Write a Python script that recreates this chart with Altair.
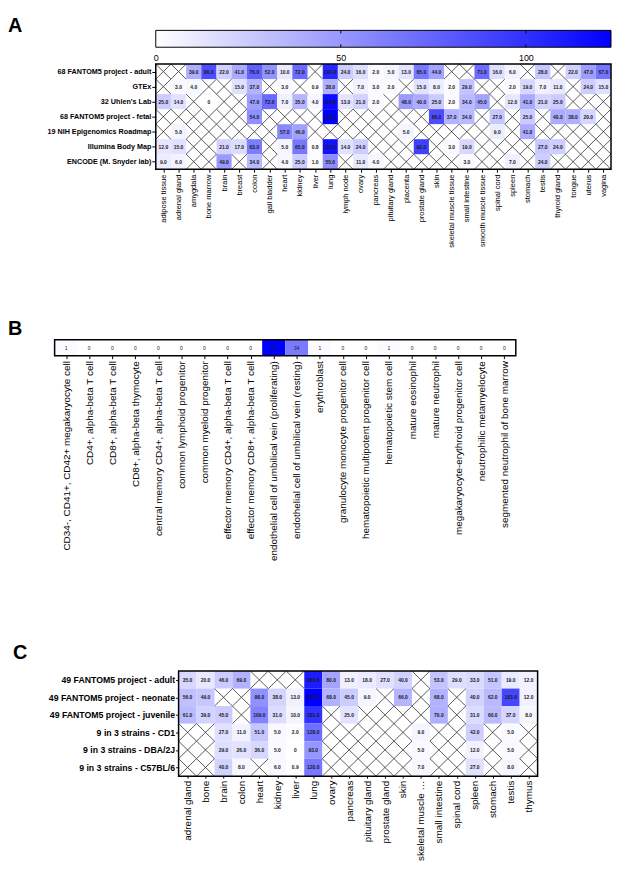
import json
import altair as alt
import pandas as pd

FONT = "Liberation Sans"
N = None

# ---------------- Panel A data ----------------
a_tissues = ["adipose tissue", "adrenal gland", "amygdala", "bone marrow", "brain", "breast",
             "colon", "gall bladder", "heart", "kidney", "liver", "lung", "lymph node", "ovary",
             "pancreas", "pituitary gland", "placenta", "prostate gland", "skin",
             "skeletal muscle tissue", "small intestine", "smooth muscle tissue", "spinal cord",
             "spleen", "stomach", "testis", "thyroid gland", "tongue", "uterus", "vagina"]
a_sources = ["68 FANTOM5 project - adult", "GTEx", "32 Uhlen's Lab", "68 FANTOM5 project - fetal",
             "19 NIH Epigenomics Roadmap", "Illumina Body Map", "ENCODE (M. Snyder lab)"]
a_fantom_adult = [N, N, 39, 86, 22, 41, 76, 52, 10, 72, N, 104, 24, 16, 2, 5, 13, 65, 44, N, N, 71, 16, 6, N, 28, N, 22, 47, 67]
a_gtex = [N, 3, 4, N, N, 15, 37, N, 3, N, 0.9, 38, N, 7, 3, 2, N, 15, 8, 2, 29, N, N, 2, 19, 7, 11, N, 24, 15]
a_uhlen = [25, 14, N, 0, N, N, 47, 72, 7, 35, 4, 117, 13, 21, 2, N, 48, 40, 25, 2, 34, 45, N, 12, 41, 21, 25, N, N, N]
a_fantom_fetal = [N, N, N, N, N, N, 54, N, N, N, N, 123, N, N, N, N, N, N, 86, 37, 34, N, 27, N, 25, N, 40, 38, 20, N]
a_nih = [N, 5, N, N, N, N, N, N, 57, 46, N, N, N, N, N, N, 5, N, N, N, N, N, 9, N, 41, N, N, N, N, N]
a_illumina = [12, 15, N, N, 21, 17, 63, N, 5, 65, 0.8, 115, 14, 24, N, N, N, 92, N, 3, 19, N, N, N, N, 27, 24, N, N, N]
a_encode = [9, 6, N, N, 49, N, 34, N, 4, 25, 1, 55, N, 11, 4, N, N, N, N, N, 3, N, N, 7, N, 24, N, N, N, N]
a_matrix = [a_fantom_adult, a_gtex, a_uhlen, a_fantom_fetal, a_nih, a_illumina, a_encode]
a_max = 123
a_colorbar_ticks = [0, 50, 100]

# ---------------- Panel B data ----------------
b_cells = ["CD34-, CD41+, CD42+ megakaryocyte cell", "CD4+, alpha-beta T cell", "CD8+, alpha-beta T cell",
           "CD8+, alpha-beta thymocyte", "central memory CD4+, alpha-beta T cell",
           "common lymphoid progenitor", "common myeloid progenitor",
           "effector memory CD4+, alpha-beta T cell", "effector memory CD8+, alpha-beta T cell",
           "endothelial cell of umbilical vein (proliferating)",
           "endothelial cell of umbilical vein (resting)", "erythroblast",
           "granulocyte monocyte progenitor cell", "hematopoietic multipotent progenitor cell",
           "hematopoietic stem cell", "mature eosinophil", "mature neutrophil",
           "megakaryocyte-erythroid progenitor cell", "neutrophilic metamyelocyte",
           "segmented neutrophil of bone marrow"]
b_values = [1, 0, 0, 0, 0, 0, 0, 0, 0, 65, 34, 1, 0, 0, 1, 0, 0, 0, 0, 0]
b_max = 65

# ---------------- Panel C data ----------------
c_tissues = ["adrenal gland", "bone", "brain", "colon", "heart", "kidney", "liver", "lung", "ovary",
             "pancreas", "pituitary gland", "prostate gland", "skin", "skeletal muscle tissue",
             "small intestine", "spinal cord", "spleen", "stomach", "testis", "thymus"]
c_sources = ["49 FANTOM5 project - adult", "49 FANTOM5 project - neonate", "49 FANTOM5 project - juvenile",
             "9 in 3 strains - CD1", "9 in 3 strains - DBA/2J", "9 in 3 strains - C57BL/6"]
c_adult = [35, 20, 46, 69, N, N, N, 200, 80, 13, 18, 27, 40, N, 53, 29, 33, 51, 19, 12]
c_neonate = [56, 49, N, N, 98, 38, 13, 225, 68, 45, 9, N, 66, N, 68, N, 40, 62, 163, 12]
c_juvenile = [61, 39, 45, N, 109, 31, 10, 181, N, 25, N, N, N, N, 70, N, 31, 60, 37, 8]
c_cd1 = [N, N, 27, 11, 51, 5, 2, 128, N, N, N, N, N, 9, N, N, 42, N, 5, N]
c_dba = [N, N, 29, 26, 36, 5, 0, 93, N, N, N, N, N, 5, N, N, 12, N, 5, N]
c_c57 = [N, N, 40, 8, N, 6, 0.9, 120, N, N, N, N, N, 7, N, N, 27, N, 8, N]
c_matrix = [c_adult, c_neonate, c_juvenile, c_cd1, c_dba, c_c57]
c_max = 225


def split_cells(matrix):
    present, missing = [], []
    for ri, row_vals in enumerate(matrix):
        for ci, v in enumerate(row_vals):
            if v is None:
                for d in (0, 1):
                    missing.append({"ri": ri, "ci": ci, "d": d})
            else:
                present.append({"ri": ri, "ci": ci, "v": v})
    return pd.DataFrame(present), pd.DataFrame(missing)


def label_expr(names):
    return json.dumps(names) + "[floor(datum.value)]"


def marker(mx, my):
    return alt.Chart(pd.DataFrame({"m": [0]})).mark_rect(opacity=0).encode(
        x=alt.value(mx), x2=alt.value(mx + 1), y=alt.value(my), y2=alt.value(my + 1))


def heatmap(rows, cols, matrix, vmax, fmt, row_font, col_font, markers,
            show_rows=True, row_tick=4, row_pad=1, col_tick=3, col_pad=2,
            cell_font=5, cell_weight="bold", col_limit=250):
    pres, miss = split_cells(matrix)
    nc, nr = len(cols), len(rows)
    xs = alt.Scale(domain=[0, nc], nice=False, zero=False)
    ys = alt.Scale(domain=[0, nr], nice=False, zero=False, reverse=True)
    xaxis = alt.Axis(orient="bottom", values=[i + 0.5 for i in range(nc)], labelExpr=label_expr(cols),
                     labelAngle=270, labelFont=FONT, labelFontSize=col_font, labelColor="black",
                     labelPadding=col_pad, tickSize=col_tick, tickColor="black", tickWidth=1,
                     domain=False, grid=False, title=None, labelOverlap=False, labelFlush=False,
                     labelLimit=col_limit, maxExtent=300)
    if show_rows:
        yaxis = alt.Axis(orient="left", values=[i + 0.5 for i in range(nr)], labelExpr=label_expr(rows),
                         labelFont=FONT, labelFontSize=row_font, labelFontWeight="bold",
                         labelColor="black", labelPadding=row_pad, tickSize=row_tick,
                         tickColor="black", tickWidth=1, domain=False, grid=False, title=None,
                         labelOverlap=False, labelFlush=False)
    else:
        yaxis = None

    rect = alt.Chart(pres).transform_calculate(
        x0="datum.ci", x1="datum.ci + 1", y0="datum.ri", y1="datum.ri + 1"
    ).mark_rect(strokeWidth=0).encode(
        x=alt.X("x0:Q", scale=xs, axis=xaxis), x2="x1:Q",
        y=alt.Y("y0:Q", scale=ys, axis=yaxis), y2="y1:Q",
        color=alt.Color("v:Q", scale=alt.Scale(domain=[0, vmax], range=["#ffffff", "#0000ff"],
                                               interpolate="rgb"), legend=None),
    )
    text = alt.Chart(pres).transform_calculate(
        xc="datum.ci + 0.5", yc="datum.ri + 0.5", lab=fmt
    ).mark_text(font=FONT, fontSize=cell_font, fontWeight=cell_weight, color="#1a1a1a").encode(
        x=alt.X("xc:Q", scale=xs, axis=xaxis),
        y=alt.Y("yc:Q", scale=ys, axis=yaxis),
        text="lab:N",
    )
    layers = [rect, text]
    if len(miss):
        rules = alt.Chart(miss).transform_calculate(
            xa="datum.ci", xb="datum.ci + 1", ya="datum.ri + datum.d", yb="datum.ri + 1 - datum.d"
        ).mark_rule(color="#333333", strokeWidth=0.8).encode(
            x=alt.X("xa:Q", scale=xs, axis=xaxis), x2="xb:Q",
            y=alt.Y("ya:Q", scale=ys, axis=yaxis), y2="yb:Q",
        )
        layers.append(rules)
    border_df = pd.DataFrame([{"bx0": 0, "bx1": nc, "by0": 0, "by1": nr}])
    border = alt.Chart(border_df).mark_rect(fillOpacity=0, stroke="black", strokeWidth=1.5).encode(
        x=alt.X("bx0:Q", scale=xs, axis=xaxis), x2="bx1:Q",
        y=alt.Y("by0:Q", scale=ys, axis=yaxis), y2="by1:Q",
    )
    layers.append(border)
    for (mx, my) in markers:
        layers.append(marker(mx, my))
    return alt.layer(*layers)


def spacer(letter, lx, ly, top, width, height):
    txt = alt.Chart(pd.DataFrame({"t": [letter]})).mark_text(
        font=FONT, fontSize=20, fontWeight="bold", align="left", baseline="top", color="black"
    ).encode(x=alt.value(lx), y=alt.value(ly), text="t:N")
    return alt.layer(txt, marker(0, top)).properties(width=width, height=height)


fmt_dec = "datum.v == 0 ? '0' : format(datum.v, '.1f')"

# ---- Panel A ----
heatA = heatmap(a_sources, a_tissues, a_matrix, a_max, fmt_dec, 7.25, 7.6,
                [(-120, 0), (0, 251)], row_tick=4, row_pad=1, col_tick=3, col_pad=2)

cbs = alt.Scale(domain=[0, a_max], nice=False, zero=False)
cbaxis = alt.Axis(orient="top", values=a_colorbar_ticks, labelFont=FONT, labelFontSize=9,
                  labelColor="black", labelPadding=2, ticks=False, tickSize=0, domain=False,
                  grid=False, title=None, labelFlush=False, labelOverlap=False, format="d")
grad = alt.LinearGradient(gradient="linear",
                          stops=[alt.GradientStop(color="#ffffff", offset=0),
                                 alt.GradientStop(color="#0000ff", offset=1)],
                          x1=0, x2=1, y1=0, y2=0)
cb_rect = alt.Chart(pd.DataFrame([{"lo": 0, "hi": a_max}])).mark_rect(
    fill=grad, stroke="black", strokeWidth=1
).encode(x=alt.X("lo:Q", scale=cbs, axis=cbaxis), x2="hi:Q", y=alt.value(-34), y2=alt.value(-17))
cb_tick_df = pd.DataFrame({"t": a_colorbar_ticks[1:]})
cb_t1 = alt.Chart(cb_tick_df).mark_rule(color="black", strokeWidth=1).encode(
    x=alt.X("t:Q", scale=cbs, axis=cbaxis), y=alt.value(-34), y2=alt.value(-31))
cb_t2 = alt.Chart(cb_tick_df).mark_rule(color="black", strokeWidth=1).encode(
    x=alt.X("t:Q", scale=cbs, axis=cbaxis), y=alt.value(-20), y2=alt.value(-17))
cb = alt.layer(cb_rect, cb_t1, cb_t2)

panelA = alt.layer(heatA, cb).resolve_scale(x="independent").properties(width=459, height=106)
rowA = alt.hconcat(spacer("A", 0, -48, -53, 29, 106), panelA, spacing=0)

# ---- Panel B ----
panelB = heatmap(["row"], b_cells, [b_values], b_max, "format(datum.v, 'd')", 7, 10,
                 [(0, 298.5)], show_rows=False, col_tick=3, col_pad=2,
                 cell_font=5, cell_weight="normal").properties(width=465, height=16)
rowB = alt.hconcat(spacer("B", 0, -21, -26, 46, 16), panelB, spacing=0)

# ---- Panel C ----
panelC = heatmap(c_sources, c_tissues, c_matrix, c_max, fmt_dec, 8.8, 10,
                 [(-145, 0)], row_tick=3, row_pad=1, col_tick=2, col_pad=2,
                 col_limit=82).properties(width=362, height=106)
rowC = alt.hconcat(spacer("C", 5, -28.5, -33.5, 26.5, 106), panelC, spacing=0)

chart = alt.vconcat(rowA, rowB, rowC, spacing=0).resolve_scale(
    x="independent", y="independent", color="independent"
).properties(padding=0).configure(
    background="white", padding=0,
    view=alt.ViewConfig(stroke="transparent", strokeWidth=0),
)

chart.save("out.html", embed_options={"renderer": "svg", "actions": False})
